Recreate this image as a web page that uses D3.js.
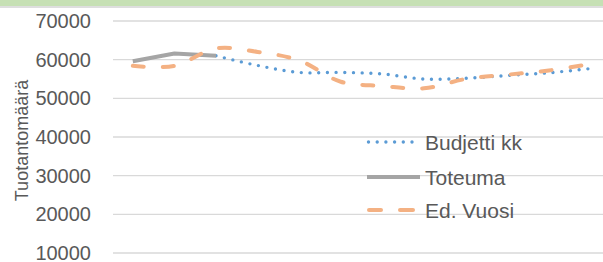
<!DOCTYPE html>
<html>
<head>
<meta charset="utf-8">
<script src="https://cdn.jsdelivr.net/npm/d3@7"></script>
<style>
  body { margin: 0; background: #fff; overflow: hidden; }
  text { font-family: "Liberation Sans", Arial, sans-serif; fill: #595959; }
</style>
</head>
<body>
<div id="chart"></div>
<script>
const months = ["tammi", "helmi", "maalis", "huhti", "touko", "kesä", "heinä", "elo", "syys", "loka", "marras", "joulu"];
const budjetti = [null, null, 61000, 58500, 56700, 56700, 56300, 55000, 55200, 55900, 56600, 57700];
const toteuma = [59600, 61600, 61000, null, null, null, null, null, null, null, null, null];
const edVuosi = [58400, 58400, 62900, 62000, 59800, 54300, 53200, 52600, 55000, 56100, 57200, 58900];
const yTicks = [10000, 20000, 30000, 40000, 50000, 60000, 70000];

const series = [
  { name: "Budjetti kk", values: budjetti, color: "#5b9bd5", width: 3.4, dash: "0,8.7", cap: "round", curve: d3.curveCatmullRom },
  { name: "Toteuma", values: toteuma, color: "#a5a5a5", width: 4, dash: null, cap: "butt", curve: d3.curveLinear },
  { name: "Ed. Vuosi", values: edVuosi, color: "#f4b183", width: 4, dash: "11,19", cap: "round", curve: d3.curveCatmullRom }
];

const W = 603, H = 262;
const svg = d3.select("#chart").append("svg").attr("width", W).attr("height", H);

// top band
svg.append("rect").attr("x", 0).attr("y", 0).attr("width", W).attr("height", 6).attr("fill", "#c6e0b4");
svg.append("rect").attr("x", 0).attr("y", 6).attr("width", W).attr("height", 2).attr("fill", "#dedede");

const x = d3.scaleBand().domain(months).range([112, 611.2]).padding(0);
const y = d3.scaleLinear().domain([10000, 70000]).range([253, 21]);

svg.append("g")
  .selectAll("line")
  .data(yTicks)
  .join("line")
  .attr("x1", 113)
  .attr("x2", W)
  .attr("y1", d => y(d))
  .attr("y2", d => y(d))
  .attr("stroke", "#d9d9d9")
  .attr("stroke-width", 1.3);

svg.append("g")
  .selectAll("text")
  .data(yTicks)
  .join("text")
  .attr("x", 91)
  .attr("y", d => y(d))
  .attr("dy", "0.35em")
  .attr("text-anchor", "end")
  .style("font-size", "20px")
  .text(d => d);

svg.append("text")
  .attr("transform", `translate(22,${(78 + 203) / 2}) rotate(-90)`)
  .attr("text-anchor", "middle")
  .attr("dy", "0.36em")
  .style("font-size", "18px")
  .text("Tuotantomäärä");

series.forEach(s => {
  const line = d3.line()
    .defined(d => d.v != null)
    .x(d => x(d.m) + x.bandwidth() / 2)
    .y(d => y(d.v))
    .curve(s.curve);

  svg.append("path")
    .datum(months.map((m, i) => ({ m, v: s.values[i] })))
    .attr("fill", "none")
    .attr("stroke", s.color)
    .attr("stroke-width", s.width)
    .attr("stroke-linecap", s.cap)
    .attr("stroke-linejoin", "round")
    .attr("stroke-dasharray", s.dash)
    .attr("d", line);
});

// legend
const legendY = [142, 177, 210];
series.forEach((s, i) => {
  const g = svg.append("g").attr("transform", `translate(0,${legendY[i]})`);
  if (s.name === "Ed. Vuosi") {
    g.append("line").attr("x1", 369).attr("x2", 381).attr("stroke", s.color).attr("stroke-width", s.width).attr("stroke-linecap", "round");
    g.append("line").attr("x1", 400).attr("x2", 413).attr("stroke", s.color).attr("stroke-width", s.width).attr("stroke-linecap", "round");
  } else {
    g.append("line")
      .attr("x1", s.cap === "round" ? 368.5 : 367)
      .attr("x2", s.cap === "round" ? 414 : 420)
      .attr("stroke", s.color)
      .attr("stroke-width", s.width)
      .attr("stroke-linecap", s.cap)
      .attr("stroke-dasharray", s.dash);
  }
  g.append("text")
    .attr("x", 425)
    .attr("dy", "0.36em")
    .style("font-size", "21px")
    .text(s.name);
});
</script>
</body>
</html>
